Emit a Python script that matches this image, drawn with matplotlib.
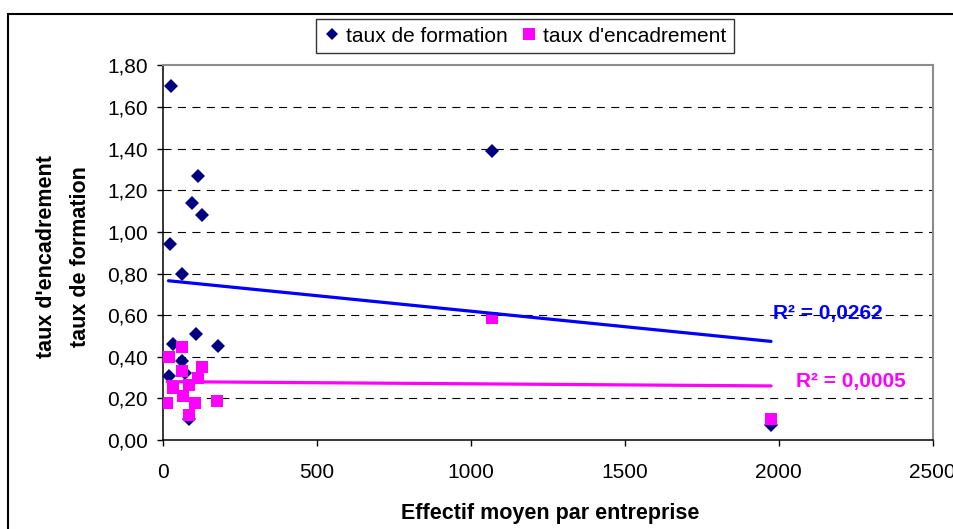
import numpy as np
import matplotlib
matplotlib.use("Agg")
import matplotlib.pyplot as plt
from matplotlib.lines import Line2D
from matplotlib.patches import Rectangle

plt.rcParams['font.family'] = ['Liberation Sans', 'DejaVu Sans']
plt.rcParams['lines.scale_dashes'] = False

# --- data ---
formation_x = [28, 114, 95, 127, 25, 62, 109, 33, 179, 62, 19, 71, 87, 1070, 1975]
formation_y = [1.70, 1.27, 1.14, 1.08, 0.94, 0.80, 0.51, 0.46, 0.45, 0.38, 0.31, 0.32, 0.10, 1.39, 0.07]

encadrement_x = [62, 21, 127, 62, 114, 32, 67, 84, 15, 105, 177, 86, 1070, 1975]
encadrement_y = [0.445, 0.397, 0.349, 0.331, 0.296, 0.248, 0.213, 0.264, 0.176, 0.176, 0.187, 0.12, 0.586, 0.10]

r2_formation_label = "R² = 0,0262"
r2_encadrement_label = "R² = 0,0005"

x_ticks = [0, 500, 1000, 1500, 2000, 2500]
y_ticks = [0.0, 0.2, 0.4, 0.6, 0.8, 1.0, 1.2, 1.4, 1.6, 1.8]

NAVY = '#000080'
MAGENTA = '#FF00FF'
BLUE = '#0000FF'

fig = plt.figure(figsize=(9.54, 5.29), dpi=100)
ax = fig.add_axes([0.1705, 0.1682, 0.8072, 0.708])

# gridlines
for yv in y_ticks[1:-1]:
    ax.axhline(yv, color='black', lw=0.8, dashes=(5.8, 4.6), zorder=1)

ax.plot(formation_x, formation_y, ls='none', marker='D', ms=7.6, color=NAVY,
        mec=NAVY, mew=0, zorder=3, label='taux de formation')
ax.plot(encadrement_x, encadrement_y, ls='none', marker='s', ms=9.0, color=MAGENTA,
        mec=MAGENTA, mew=0, zorder=4, label="taux d'encadrement")

# linear trend lines (least squares fit of each series)
def trend(xs, ys):
    xs = np.asarray(xs, float); ys = np.asarray(ys, float)
    a, b = np.polyfit(xs, ys, 1)
    xx = np.array([xs.min(), xs.max()])
    return xx, a * xx + b

tx, ty = trend(formation_x, formation_y)
ax.plot(tx, ty, color=BLUE, lw=2.3, solid_capstyle='round', zorder=5)
tx2, ty2 = trend(encadrement_x, encadrement_y)
ax.plot(tx2, ty2, color=MAGENTA, lw=2.3, solid_capstyle='round', zorder=5)

ax.text(1982, 0.608, r2_formation_label, color=BLUE, fontsize=15, fontweight='bold',
        va='center', ha='left', zorder=6)
ax.text(2056, 0.283, r2_encadrement_label, color=MAGENTA, fontsize=15, fontweight='bold',
        va='center', ha='left', zorder=6)

ax.set_xlim(0, 2500)
ax.set_ylim(0, 1.8)
ax.set_xticks(x_ticks)
ax.set_yticks(y_ticks)
ax.set_xticklabels([str(v) for v in x_ticks])
ax.set_yticklabels([f"{v:.2f}".replace('.', ',') for v in y_ticks])
ax.tick_params(axis='both', direction='out', length=4.3, width=1, color='black',
               labelsize=15, labelcolor='black')
ax.tick_params(axis='y', pad=6.5)
ax.tick_params(axis='x', pad=12)

for s in ['left', 'bottom']:
    ax.spines[s].set_color('black')
    ax.spines[s].set_linewidth(1.1)
for s in ['top', 'right']:
    ax.spines[s].set_color('#8c8c8c')
    ax.spines[s].set_linewidth(1.5)

# axis titles
fig.text(550 / 954, 1 - 513 / 529, "Effectif moyen par entreprise", fontsize=15.5,
         fontweight='bold', ha='center', va='center')
fig.text(47 / 954, 1 - 257 / 529, "taux d'encadrement", fontsize=15.5, fontweight='bold',
         rotation=90, ha='center', va='center')
fig.text(80 / 954, 1 - 257 / 529, "taux de formation", fontsize=15.5, fontweight='bold',
         rotation=90, ha='center', va='center')

# legend
handles = [Line2D([], [], ls='none', marker='D', ms=6.3, color=NAVY, mew=0),
           Line2D([], [], ls='none', marker='s', ms=8.4, color=MAGENTA, mew=0)]
leg = fig.legend(handles, ['taux de formation', "taux d'encadrement"], loc='center',
                 bbox_to_anchor=(525 / 954, 1 - 36 / 529), ncol=2, frameon=True,
                 fancybox=False, fontsize=15, handlelength=0.8, handletextpad=0.3,
                 columnspacing=0.6, borderpad=0.35, borderaxespad=0)
leg.get_frame().set_edgecolor('black')
leg.get_frame().set_linewidth(1.0)

# outer chart frame
fig.patches.append(Rectangle((8 / 954, -0.1), 1.2, 1.1 - 14 / 529, transform=fig.transFigure,
                             fill=False, edgecolor='black', lw=1.5, zorder=0))

fig.savefig('out.png', dpi=100)
